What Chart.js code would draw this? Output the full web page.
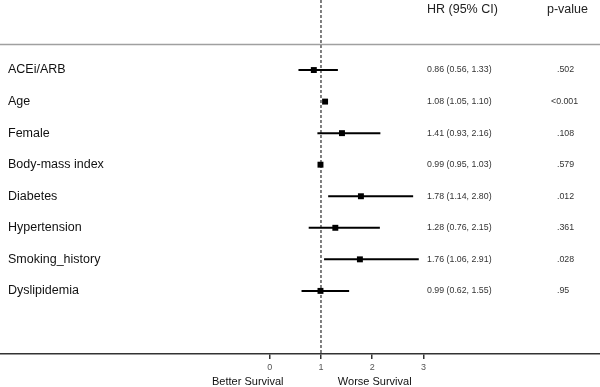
<!DOCTYPE html>
<html>
<head>
<meta charset="utf-8">
<script src="https://cdn.jsdelivr.net/npm/chart.js@4.4.0/dist/chart.umd.min.js"></script>
<style>
  html, body { margin: 0; padding: 0; background: #fff; }
  #wrap { width: 600px; height: 387px; }
</style>
</head>
<body>
<div id="wrap"><canvas id="forest" width="600" height="387"></canvas></div>
<script>
// ------------------ DATA ------------------
const variables = ["ACEi/ARB", "Age", "Female", "Body-mass index", "Diabetes", "Hypertension", "Smoking_history", "Dyslipidemia"];
const hazardRatios = [0.86, 1.08, 1.41, 0.99, 1.78, 1.28, 1.76, 0.99];
const ciLower = [0.56, 1.05, 0.93, 0.95, 1.14, 0.76, 1.06, 0.62];
const ciUpper = [1.33, 1.10, 2.16, 1.03, 2.80, 2.15, 2.91, 1.55];
const pValues = [".502", "<0.001", ".108", ".579", ".012", ".361", ".028", ".95"];
const xTicks = [0, 1, 2, 3];
const outcomeLabels = ["Better Survival", "Worse Survival"];
const outcomePositions = [-0.43, 2.05];

// ------------------ LAYOUT ------------------
const FONT = "'Liberation Sans', Arial, sans-serif";
const X_MIN = -5.27, X_MAX = 6.45;
const Y_MIN = -2.22, Y_MAX = 9;
const HEADER_ROW = -1.93;
const SEPARATOR_ROW = -0.81;

// ------------------ DATASETS ------------------
const ciDatasets = variables.map((name, i) => ({
  label: name + " CI",
  data: [{ x: ciLower[i], y: i }, { x: ciUpper[i], y: i }],
  showLine: true,
  borderColor: "#000",
  borderWidth: 2,
  pointRadius: 0,
}));

const refLine = {
  label: "HR = 1",
  data: [{ x: 1, y: Y_MIN }, { x: 1, y: Y_MAX }],
  showLine: true,
  borderColor: "#000",
  borderWidth: 1,
  borderDash: [3, 2],
  pointRadius: 0,
};

const separator = {
  label: "separator",
  data: [{ x: X_MIN, y: SEPARATOR_ROW }, { x: X_MAX, y: SEPARATOR_ROW }],
  showLine: true,
  borderColor: "#a0a0a0",
  borderWidth: 1.5,
  pointRadius: 0,
};

const points = {
  label: "HR",
  data: hazardRatios.map((v, i) => ({ x: v, y: i })),
  pointStyle: "rect",
  pointRadius: 4.2,
  backgroundColor: "#000",
  borderColor: "#000",
  borderWidth: 0,
};

// ------------------ TEXT COLUMNS ------------------
const tablePlugin = {
  id: "forestTable",
  afterDraw(chart) {
    const { ctx } = chart;
    const xs = chart.scales.x;
    const ys = chart.scales.y;
    ctx.save();
    ctx.textBaseline = "middle";
    ctx.textAlign = "left";

    // header
    ctx.fillStyle = "#222";
    ctx.font = "12.5px " + FONT;
    ctx.fillText("HR (95% CI)", 427, ys.getPixelForValue(HEADER_ROW));
    ctx.fillText("p-value", 547, ys.getPixelForValue(HEADER_ROW));

    variables.forEach((name, i) => {
      const y = ys.getPixelForValue(i);
      ctx.font = "12.5px " + FONT;
      ctx.fillStyle = "#111";
      ctx.fillText(name, 8, y);

      ctx.font = "8.8px " + FONT;
      ctx.fillStyle = "#333";
      const hr = hazardRatios[i].toFixed(2) + " (" + ciLower[i].toFixed(2) + ", " + ciUpper[i].toFixed(2) + ")";
      ctx.fillText(hr, 427, y);
      ctx.fillText(pValues[i], pValues[i].startsWith("<") ? 551 : 557, y);
    });

    // outcome labels under the axis
    ctx.textAlign = "center";
    ctx.font = "11px " + FONT;
    ctx.fillStyle = "#111";
    outcomeLabels.forEach((txt, i) => {
      ctx.fillText(txt, xs.getPixelForValue(outcomePositions[i]), 382);
    });
    ctx.restore();
  },
};

// ------------------ CHART ------------------
new Chart(document.getElementById("forest").getContext("2d"), {
  type: "scatter",
  data: { datasets: [separator, refLine, ...ciDatasets, points] },
  options: {
    responsive: false,
    animation: false,
    layout: { padding: 0, autoPadding: false },
    plugins: { legend: { display: false }, tooltip: { enabled: false } },
    scales: {
      x: {
        type: "linear",
        min: X_MIN,
        max: X_MAX,
        afterBuildTicks: scale => { scale.ticks = xTicks.map(v => ({ value: v })); },
        afterFit: scale => { scale.height = 33; },
        grid: { drawOnChartArea: false, drawTicks: true, tickLength: 5, color: "#333", lineWidth: 1.5 },
        border: { display: true, color: "#333", width: 1.5 },
        ticks: { font: { size: 9, family: FONT }, color: "#555", padding: 3, callback: v => v },
      },
      y: {
        type: "linear",
        reverse: true,
        min: Y_MIN,
        max: Y_MAX,
        display: false,
      },
    },
  },
  plugins: [tablePlugin],
});
</script>
</body>
</html>
